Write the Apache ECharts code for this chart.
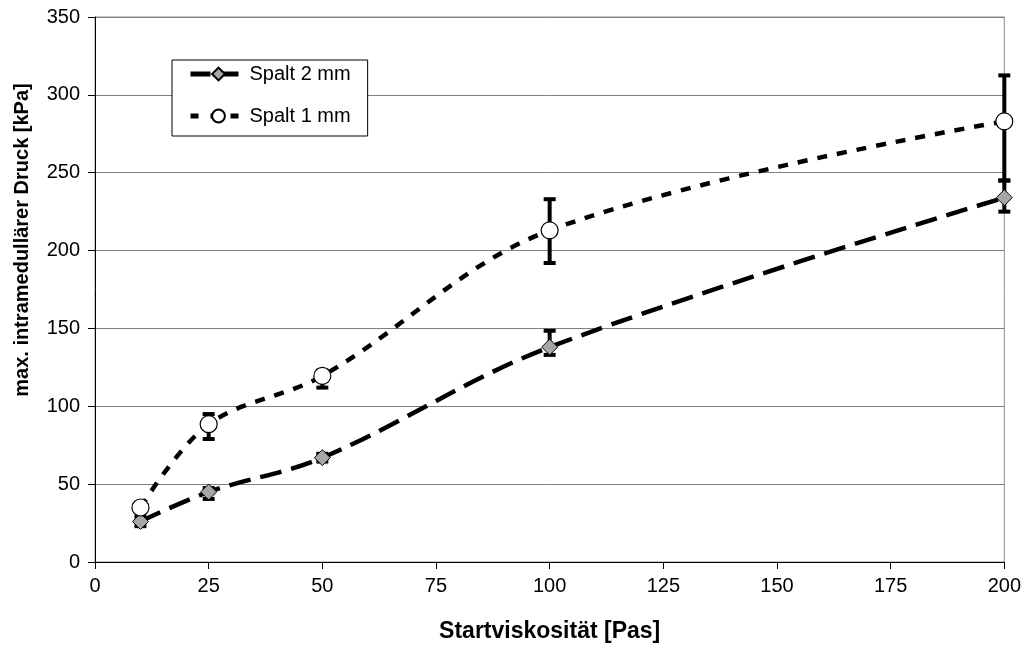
<!DOCTYPE html>
<html>
<head>
<meta charset="utf-8">
<script src="https://cdn.jsdelivr.net/npm/echarts@6/dist/echarts.min.js"></script>
<style>
  html, body { margin: 0; padding: 0; background: #fff; }
  #chart { width: 1024px; height: 649px; }
</style>
</head>
<body>
<div id="chart"></div>
<script>
// Startviskosität [Pas]
var viskositaet = [10, 25, 50, 100, 200];

// Spalt 2 mm: Mittelwert, untere und obere Fehlergrenze
var spalt2 = [26, 45, 67, 138, 234];
var spalt2Min = [23, 40.5, 64.5, 133, 225];
var spalt2Max = [29, 47.5, 69.5, 148.5, 245];

// Spalt 1 mm
var spalt1 = [35, 88.5, 119.5, 213, 283];
var spalt1Min = [33, 79, 112, 192, 245];
var spalt1Max = [37, 95, 123, 233, 312.5];

var xTicks = [0, 25, 50, 75, 100, 125, 150, 175, 200];
var yTicks = [0, 50, 100, 150, 200, 250, 300, 350];

var fontName = 'Liberation Sans, Arial, sans-serif';

function pairs(xs, ys) {
    var out = [];
    for (var i = 0; i < xs.length; i++) {
        out.push([xs[i], ys[i]]);
    }
    return out;
}

function errData(xs, lo, hi) {
    var out = [];
    for (var i = 0; i < xs.length; i++) {
        out.push([xs[i], lo[i], hi[i]]);
    }
    return out;
}

// Fehlerbalken mit Querstrichen
function renderErr(params, api) {
    var x = api.value(0);
    var lo = api.coord([x, api.value(1)]);
    var hi = api.coord([x, api.value(2)]);
    var half = 6;
    var st = { stroke: '#000', lineWidth: 4 };
    return {
        type: 'group',
        children: [
            { type: 'line', shape: { x1: lo[0], y1: lo[1], x2: hi[0], y2: hi[1] }, style: st },
            { type: 'line', shape: { x1: lo[0] - half, y1: lo[1], x2: lo[0] + half, y2: lo[1] }, style: st },
            { type: 'line', shape: { x1: hi[0] - half, y1: hi[1], x2: hi[0] + half, y2: hi[1] }, style: st }
        ]
    };
}

var myChart = echarts.init(document.getElementById('chart'));
var option = {
    animation: false,
    grid: {
        left: 95, right: 19, top: 17, bottom: 87,
        show: true, borderColor: '#8c8c8c', borderWidth: 1
    },
    legend: {
        data: [
            { name: 'Spalt 2 mm', lineStyle: { width: 5, type: [20, 8] } },
            { name: 'Spalt 1 mm', lineStyle: { width: 5, type: [8, 12] } }
        ],
        orient: 'vertical',
        left: 172, top: 60,
        padding: [4, 17, 10, 16],
        itemGap: 22,
        itemWidth: 56, itemHeight: 16,
        backgroundColor: '#fff',
        borderColor: '#000', borderWidth: 1,
        textStyle: { fontFamily: fontName, fontSize: 20, color: '#000', padding: [0, 0, 0, -2] }
    },
    xAxis: {
        type: 'value',
        min: 0, max: 200, interval: 25,
        name: 'Startviskosität [Pas]',
        nameLocation: 'middle',
        nameGap: 58,
        nameTextStyle: { fontFamily: fontName, fontSize: 23, fontWeight: 'bold', color: '#000' },
        axisLine: { lineStyle: { color: '#000', width: 1 } },
        axisTick: { length: 7, lineStyle: { color: '#000' } },
        axisLabel: { fontFamily: fontName, fontSize: 20, color: '#000', margin: 14 },
        splitLine: { show: false }
    },
    yAxis: {
        type: 'value',
        min: 0, max: 350, interval: 50,
        axisLine: { show: true, lineStyle: { color: '#000', width: 1 } },
        axisTick: { show: true, length: 7, lineStyle: { color: '#000' } },
        axisLabel: { fontFamily: fontName, fontSize: 20, color: '#000', margin: 15 },
        splitLine: { lineStyle: { color: '#808080', width: 1 } }
    },
    graphic: [{
        type: 'text',
        x: 22, y: 240,
        rotation: Math.PI / 2,
        style: {
            text: 'max. intramedullärer Druck [kPa]',
            font: 'bold 20px Liberation Sans, Arial, sans-serif',
            fill: '#000',
            align: 'center',
            verticalAlign: 'middle'
        }
    }],
    series: [
        {
            type: 'custom',
            renderItem: renderErr,
            data: errData(viskositaet, spalt2Min, spalt2Max),
            encode: { x: 0, y: [1, 2] },
            z: 3
        },
        {
            type: 'custom',
            renderItem: renderErr,
            data: errData(viskositaet, spalt1Min, spalt1Max),
            encode: { x: 0, y: [1, 2] },
            z: 3
        },
        {
            name: 'Spalt 2 mm',
            type: 'line',
            data: pairs(viskositaet, spalt2),
            smooth: 0.35,
            symbol: 'diamond',
            symbolSize: 16,
            itemStyle: { color: '#a6a6a6', borderColor: '#000', borderWidth: 1 },
            lineStyle: { color: '#000', width: 4.5, type: [22, 10] },
            z: 4
        },
        {
            name: 'Spalt 1 mm',
            type: 'line',
            data: pairs(viskositaet, spalt1),
            smooth: 0.35,
            symbol: 'circle',
            symbolSize: 17,
            itemStyle: { color: '#fff', borderColor: '#000', borderWidth: 1.2 },
            lineStyle: { color: '#000', width: 4.5, type: [10, 10] },
            z: 5
        }
    ]
};
myChart.setOption(option);
</script>
</body>
</html>
